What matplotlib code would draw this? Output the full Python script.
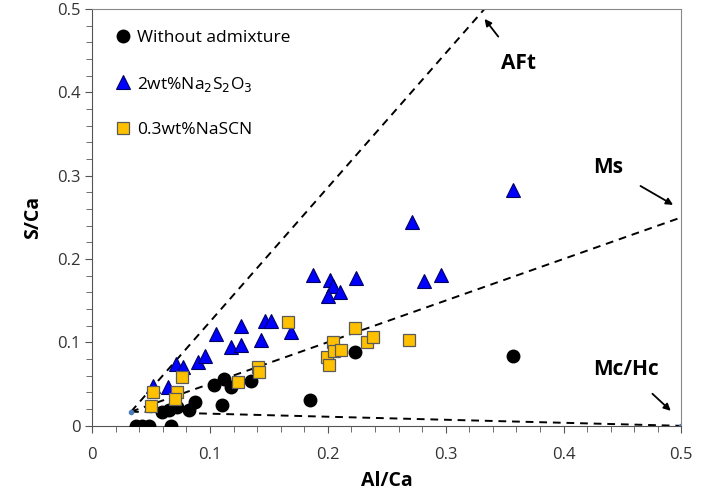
import matplotlib.pyplot as plt
from matplotlib.ticker import MultipleLocator

plt.rcParams['font.family'] = ['Open Sans', 'DejaVu Sans']

# data (Al/Ca, S/Ca)
plain_x = [0.037, 0.042, 0.048, 0.067, 0.059, 0.065, 0.072, 0.082, 0.087, 0.103,
           0.112, 0.118, 0.135, 0.110, 0.185, 0.223, 0.357]
plain_y = [0.0, 0.0, 0.0, 0.0, 0.017, 0.019, 0.022, 0.019, 0.029, 0.049,
           0.056, 0.046, 0.054, 0.025, 0.031, 0.088, 0.084]

thio_x = [0.052, 0.064, 0.071, 0.077, 0.090, 0.096, 0.105, 0.118, 0.126, 0.126,
          0.143, 0.147, 0.152, 0.169, 0.187, 0.202, 0.204, 0.200, 0.210, 0.224,
          0.271, 0.282, 0.296, 0.357]
thio_y = [0.048, 0.047, 0.074, 0.071, 0.077, 0.084, 0.110, 0.095, 0.120, 0.097,
          0.103, 0.126, 0.126, 0.112, 0.181, 0.175, 0.168, 0.156, 0.161, 0.177,
          0.245, 0.174, 0.181, 0.283]

scn_x = [0.052, 0.050, 0.072, 0.070, 0.076, 0.124, 0.141, 0.142, 0.166, 0.199,
         0.201, 0.204, 0.205, 0.211, 0.223, 0.233, 0.238, 0.269]
scn_y = [0.041, 0.024, 0.040, 0.032, 0.058, 0.053, 0.070, 0.064, 0.125, 0.083,
         0.073, 0.101, 0.090, 0.091, 0.117, 0.101, 0.106, 0.103]

origin = (0.033, 0.017)
phases = {'AFt': (0.333, 0.5), 'Ms': (0.5, 0.25), 'Mc/Hc': (0.5, 0.0)}

fig = plt.figure(figsize=(7.09, 4.94), dpi=100)
ax = fig.add_axes([0.130, 0.138, 0.831, 0.844])

for name, (px, py) in phases.items():
    ax.plot([origin[0], px], [origin[1], py], ls=(0, (4, 3)), color='black', lw=1.4, zorder=1)
ax.plot([origin[0], 0.5], [origin[1], 0.0], ls='none', marker='o', ms=3, color='#4a7ebb', zorder=2)

ax.plot(plain_x, plain_y, 'o', ms=9, color='black', label='Without admixture', zorder=3)
ax.plot(thio_x, thio_y, '^', ms=9.5, mfc='#0000ff', mec='#000060', mew=0.8,
        label='2wt%Na$_2$S$_2$O$_3$', zorder=4)
ax.plot(scn_x, scn_y, 's', ms=9, mfc='#ffc000', mec='#5a5a5a', mew=0.9,
        label='0.3wt%NaSCN', zorder=5)

ax.set_xlim(0, 0.5)
ax.set_ylim(0, 0.5)
ax.xaxis.set_major_locator(MultipleLocator(0.1))
ax.xaxis.set_minor_locator(MultipleLocator(0.02))
ax.yaxis.set_major_locator(MultipleLocator(0.1))
ax.yaxis.set_minor_locator(MultipleLocator(0.02))
ax.xaxis.set_major_formatter(lambda v, p: '0' if abs(v) < 1e-9 else f'{v:g}')
ax.yaxis.set_major_formatter(lambda v, p: '0' if abs(v) < 1e-9 else f'{v:g}')
ax.tick_params(which='both', direction='out', color='#555555', labelsize=12, labelcolor='#333333')
ax.tick_params(which='major', length=5)
ax.tick_params(which='minor', length=4)
ax.tick_params(axis='x', pad=10)
for s in ax.spines.values():
    s.set_color('#888888')
ax.spines['left'].set_color('#555555')
ax.spines['bottom'].set_color('#555555')

ax.set_xlabel('Al/Ca', fontsize=14, fontweight='bold', labelpad=6)
ax.set_ylabel('S/Ca', fontsize=14, fontweight='bold', labelpad=10)

ax.annotate('AFt', xy=(0.333, 0.488), xytext=(0.362, 0.435), fontsize=15, fontweight='bold',
            ha='center', va='center',
            arrowprops=dict(arrowstyle='-|>', color='black', lw=1.3, shrinkA=12, shrinkB=0,
                            mutation_scale=10))
ax.annotate('Ms', xy=(0.493, 0.265), xytext=(0.438, 0.31), fontsize=15, fontweight='bold',
            ha='center', va='center',
            arrowprops=dict(arrowstyle='-|>', color='black', lw=1.3, shrinkA=12, shrinkB=0,
                            mutation_scale=10))
ax.annotate('Mc/Hc', xy=(0.491, 0.018), xytext=(0.453, 0.068), fontsize=15, fontweight='bold',
            ha='center', va='center',
            arrowprops=dict(arrowstyle='-|>', color='black', lw=1.3, shrinkA=12, shrinkB=0,
                            mutation_scale=10))

ax.legend(loc='upper left', bbox_to_anchor=(0.02, 0.975), frameon=False, fontsize=12.5,
          labelspacing=1.65, handletextpad=0.3, handlelength=1.0, borderaxespad=0.2)

fig.savefig('out.png', dpi=100)
